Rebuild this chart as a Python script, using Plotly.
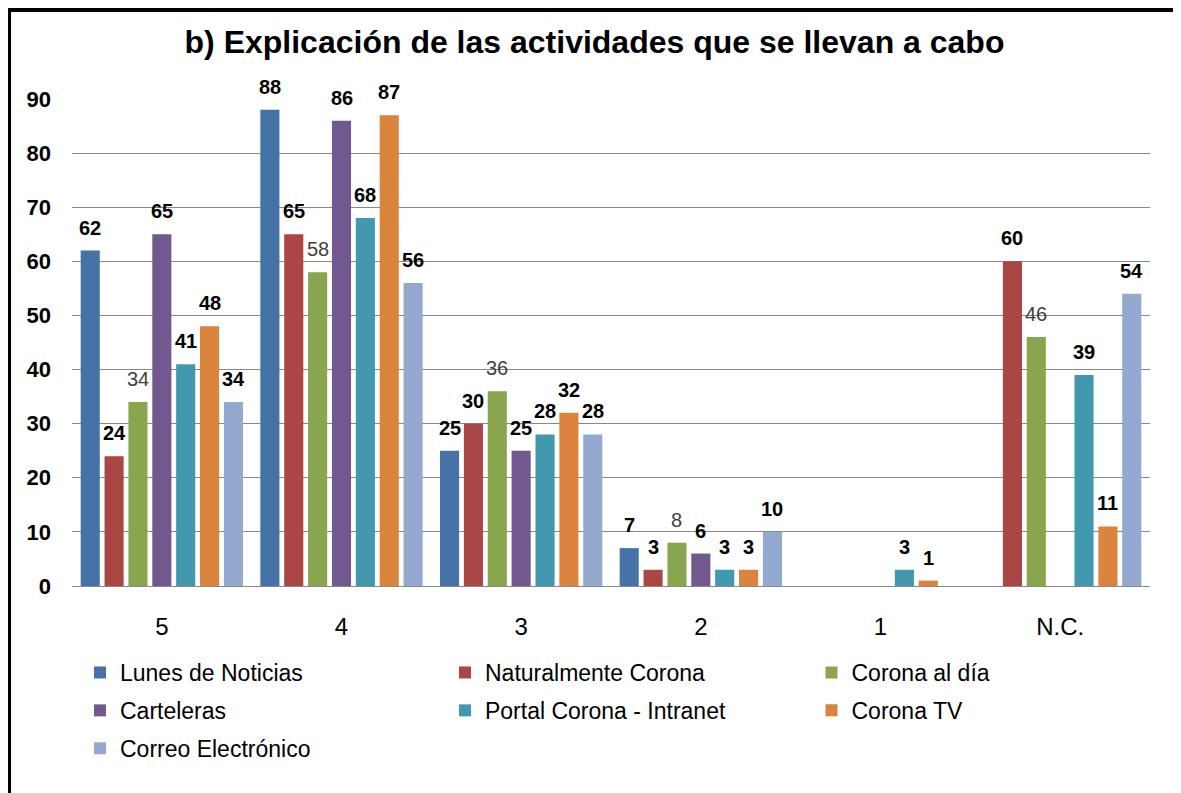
import plotly.graph_objects as go

categories = ["5", "4", "3", "2", "1", "N.C."]

lunes = [62, 88, 25, 7, None, None]
naturalmente = [24, 65, 30, 3, None, 60]
corona_dia = [34, 58, 36, 8, None, 46]
carteleras = [65, 86, 25, 6, None, None]
portal = [41, 68, 28, 3, 3, 39]
corona_tv = [48, 87, 32, 3, 1, 11]
correo = [34, 56, 28, 10, None, 54]

# name, values, colour, bold label, legend column
series = [
    ("Lunes de Noticias", lunes, "#4572A7", True, "legend"),
    ("Naturalmente Corona", naturalmente, "#AA4643", True, "legend2"),
    ("Corona al día", corona_dia, "#89A54E", False, "legend3"),
    ("Carteleras", carteleras, "#71588F", True, "legend"),
    ("Portal Corona - Intranet", portal, "#4198AF", True, "legend2"),
    ("Corona TV", corona_tv, "#DB843D", True, "legend3"),
    ("Correo Electrónico", correo, "#93A9CF", True, "legend"),
]

W, H = 1173, 785
ML, MR, MT, MB = 64, 31, 91, 207
BARGAP = 0.07

fig = go.Figure()
for name, vals, color, bold, leg in series:
    fig.add_trace(go.Bar(
        x=categories, y=vals, name=name, legend=leg, legendgroup=name,
        marker=dict(color=color, line=dict(width=0)),
    ))

# value labels sit a bit higher above the bars than plotly's own bar text
# (category axis: annotations take the category index, "5"/"4"... would be read as indices)
slot = (W - ML - MR) / len(categories) * (1 - BARGAP) / len(series)
for i, (name, vals, color, bold, leg) in enumerate(series):
    for j, v in enumerate(vals):
        if v is None:
            continue
        fig.add_annotation(
            x=j, y=v, xshift=(i - (len(series) - 1) / 2) * slot, yshift=10,
            yanchor="bottom", showarrow=False,
            text=f"<b>{v}</b>" if bold else str(v),
            font=dict(size=20, color="#000000" if bold else "#404040"),
        )

leg_common = dict(orientation="v", y=-0.1335, yanchor="top", xanchor="left",
                  font=dict(size=23), tracegroupgap=5, bgcolor="rgba(0,0,0,0)")

# page body has an 8px margin, so the figure is drawn 8px in from the window edge
fig.update_layout(
    width=W, height=H,
    paper_bgcolor="white", plot_bgcolor="white",
    margin=dict(l=ML, r=MR, t=MT, b=MB),
    barmode="group", bargap=BARGAP, bargroupgap=0.2,
    font=dict(family="Liberation Sans, Arial", color="#000000"),
    title=dict(text="<b>b) Explicación de las actividades que se llevan a cabo</b>",
               x=0.5, xanchor="center", y=0.957, yanchor="middle",
               font=dict(size=32, color="#000000")),
    legend=dict(x=0.0074, **leg_common),
    legend2=dict(x=0.346, **leg_common),
    legend3=dict(x=0.686, **leg_common),
    showlegend=True,
)
fig.update_xaxes(tickfont=dict(size=24), showline=True, linecolor="#888888",
                 ticks="", ticklabelstandoff=19)
fig.update_yaxes(range=[0, 90], dtick=10, showgrid=True, gridcolor="#888888",
                 gridwidth=1, tickfont=dict(size=22), tickprefix="<b>", ticksuffix="</b>",
                 zeroline=False, ticklabelstandoff=20)

fig.add_shape(type="rect", xref="paper", yref="paper",
              x0=-0.0584, x1=1.0269, y0=-0.5, y1=1.1828,
              line=dict(color="black", width=4), layer="above")

fig.write_html("out.html")
